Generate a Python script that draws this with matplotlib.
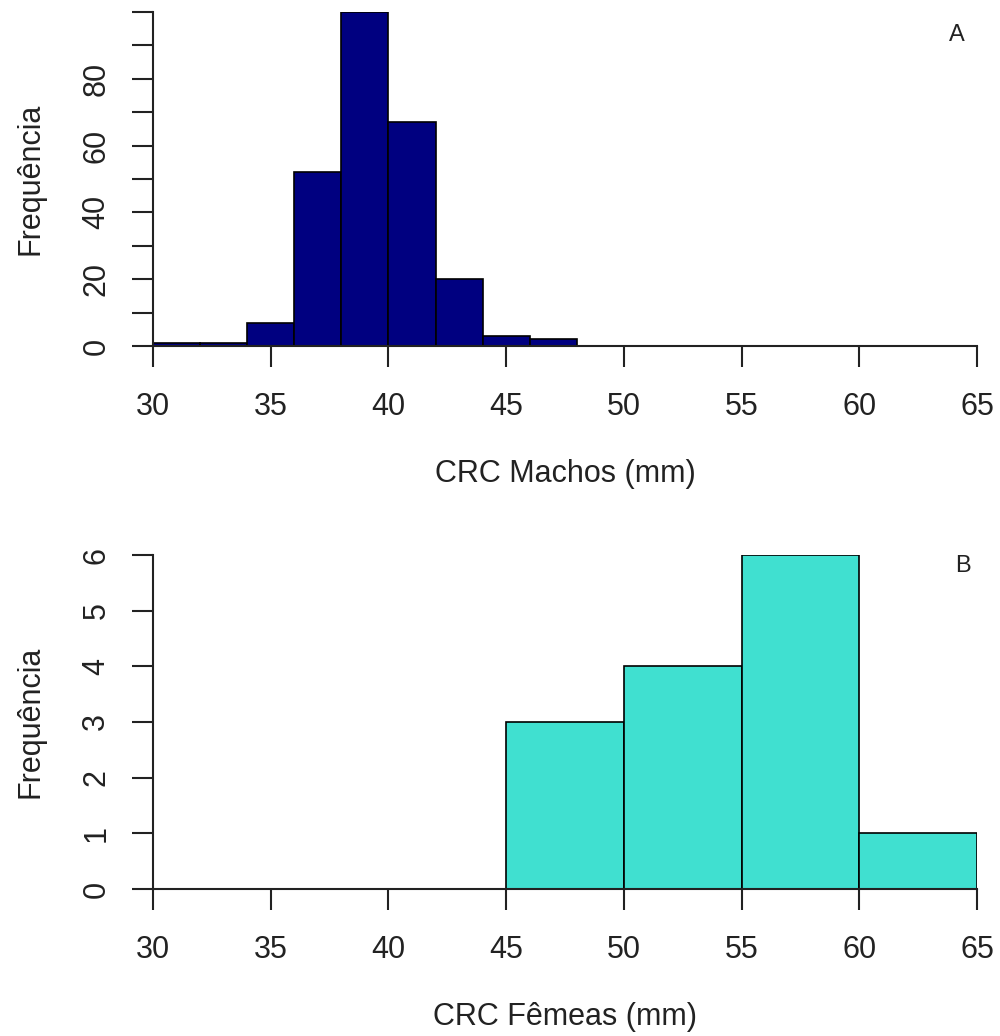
import matplotlib
matplotlib.use("Agg")
import matplotlib.pyplot as plt
import numpy as np

plt.rcParams['font.family'] = ['Liberation Sans', 'DejaVu Sans']

# Snout-vent length (CRC) histograms
male_edges = [30, 32, 34, 36, 38, 40, 42, 44, 46, 48]
male_counts = [1, 1, 7, 52, 100, 67, 20, 3, 2]

female_edges = [45, 50, 55, 60, 65]
female_counts = [3, 4, 6, 1]

x_ticks = [30, 35, 40, 45, 50, 55, 60, 65]
male_yticks = list(range(0, 101, 10))
male_ylabels = ["0", "", "20", "", "40", "", "60", "", "80", "", ""]
female_yticks = [0, 1, 2, 3, 4, 5, 6]

FS = 22
W, H = 1000, 1036
fig = plt.figure(figsize=(W / 100, H / 100), dpi=100)

ax1 = fig.add_axes([153 / W, 1 - 346 / H, 824 / W, 334 / H])
ax2 = fig.add_axes([153 / W, 1 - 889 / H, 824 / W, 334 / H])


def draw_hist(ax, edges, counts, color):
    edges = np.asarray(edges, dtype=float)
    widths = np.diff(edges)
    ax.bar(edges[:-1], counts, width=widths, align='edge', color=color,
           edgecolor='black', linewidth=1.2, zorder=2)


def style(ax, yticks, ylabels, ymax, xlabel, tag, tag_xy):
    ax.set_xlim(30, 65)
    ax.set_ylim(0, ymax)
    for s in ('top', 'right'):
        ax.spines[s].set_visible(False)
    for s in ('left', 'bottom'):
        ax.spines[s].set_linewidth(1.5)
        ax.spines[s].set_color('#222222')
    ax.set_xticks(x_ticks)
    ax.set_xticklabels([str(t) for t in x_ticks])
    ax.set_yticks(yticks)
    ax.set_yticklabels(ylabels, rotation=90, va='center')
    ax.tick_params(axis='both', direction='out', length=15, width=1.5,
                   color='#222222', labelsize=FS, labelcolor='#222222')
    ax.tick_params(axis='x', pad=18)
    ax.tick_params(axis='y', pad=15)
    ax.set_xlabel(xlabel, fontsize=FS, color='#222222', labelpad=27)
    ax.set_ylabel("Frequência", fontsize=FS, color='#222222', labelpad=26)
    ax.text(tag_xy[0], tag_xy[1], tag, fontsize=17, color='#222222',
            ha='center', va='center')
    for spine in ax.spines.values():
        spine.set_zorder(3)


draw_hist(ax1, male_edges, male_counts, '#000080')
style(ax1, male_yticks, male_ylabels, 100, "CRC Machos (mm)", "A", (64.15, 93))

draw_hist(ax2, female_edges, female_counts, '#40E0D0')
style(ax2, female_yticks, [str(t) for t in female_yticks], 6,
      "CRC Fêmeas (mm)", "B", (64.4, 5.8))

fig.savefig("out.png", dpi=100)
